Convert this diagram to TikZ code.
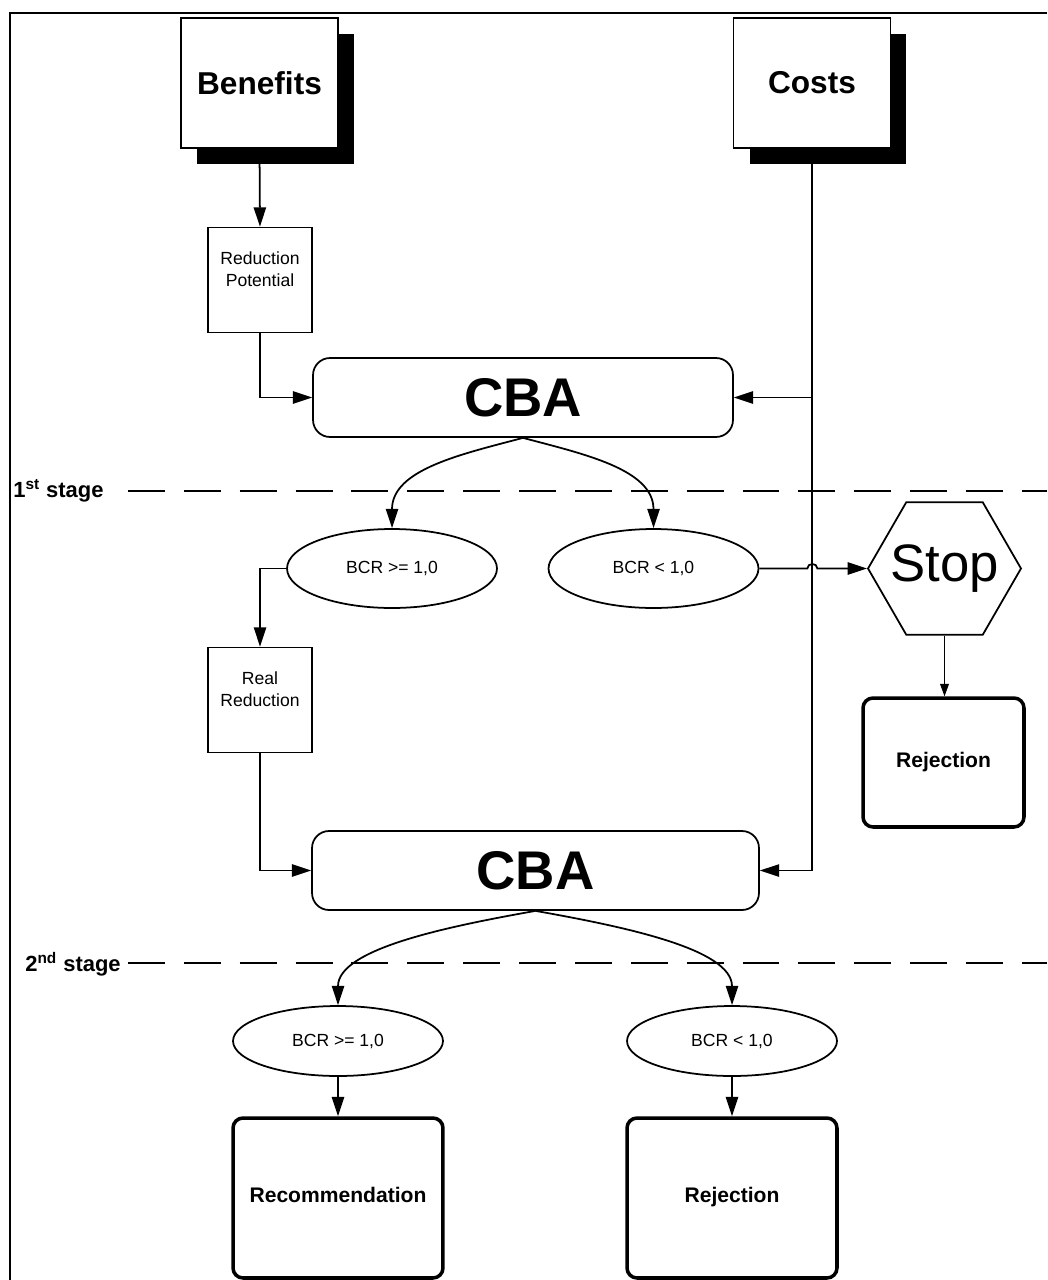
\documentclass[tikz,border=0pt]{standalone}
\usepackage{fontspec}
\setmainfont{Liberation Sans}
\usetikzlibrary{shapes.geometric}
\usetikzlibrary{shadows}
\usetikzlibrary{arrows.meta}

\begin{document}
\begin{tikzpicture}[x=0.02cm,y=-0.02cm,
  docbox/.style={draw,fill=white,line width=1pt,minimum width=3.14cm,minimum height=2.6cm,font=\bfseries\fontsize{18}{22}\selectfont,drop shadow={shadow xshift=0.32cm,shadow yshift=-0.32cm,fill=black,opacity=1}},
  redbox/.style={draw,line width=1pt,minimum width=2.08cm,minimum height=2.1cm,inner sep=0pt,align=center,font=\fontsize{10}{12.5}\selectfont},
  cbabox/.style={draw,line width=1pt,rounded corners=0.34cm,minimum height=1.58cm,font=\bfseries\fontsize{31}{36}\selectfont},
  bcr/.style={ellipse,draw,line width=1pt,minimum width=4.2cm,minimum height=1.58cm,inner sep=0pt,font=\fontsize{10}{12}\selectfont},
  endbox/.style={draw,line width=2pt,rounded corners=0.2cm,text height=0.75em,text depth=0.22em,font=\bfseries\fontsize{12}{14}\selectfont},
  stopsign/.style={regular polygon,regular polygon sides=6,draw,line width=1pt,minimum size=3.06cm,inner sep=0pt,label={[font=\fontsize{30}{36}\selectfont]center:#1}},
  stagelabel/.style={inner sep=0pt,font=\bfseries\fontsize{12.5}{14}\selectfont},
  stageline/.style={line width=1.1pt,dash pattern=on 21pt off 10.8pt},
  arr/.style={line width=1pt,-{Triangle[length=11pt,width=7pt]}},
  thinarr/.style={line width=0.5pt,-{Triangle[length=7pt,width=5pt]}}]
\useasboundingbox (0,0) rectangle (1047,1280);
\draw[line width=1.2pt] (1047,13) -- (10,13) -- (10,1280);

\node[docbox] (benefits) at (259.5,83) {Benefits};
\node[docbox] (costs) at (812,83) {Costs};
\node[redbox] (potential) at (260,280) {Reduction\\Potential\\\mbox{}};
\node[cbabox,minimum width=8.4cm] (cbaA) at (523,397.5) {CBA};
\node[bcr] (bcrA) at (392,568.5) {BCR >= 1,0};
\node[bcr] (bcrB) at (653.5,568.5) {BCR < 1,0};
\node[stopsign=Stop] (stop) at (944.5,568.5) {};
\node[endbox,minimum width=3.22cm,minimum height=2.58cm] (rejA) at (943.5,762.5) {Rejection};
\node[redbox] (real) at (260,700) {Real\\Reduction\\\mbox{}};
\node[cbabox,minimum width=8.94cm] (cbaB) at (535.5,870.5) {CBA};
\node[bcr,minimum height=1.4cm] (bcrC) at (338,1041) {BCR >= 1,0};
\node[bcr,minimum height=1.4cm] (bcrD) at (732,1041) {BCR < 1,0};
\node[endbox,minimum width=4.2cm,minimum height=3.2cm] (recom) at (338,1198) {Recommendation};
\node[endbox,minimum width=4.2cm,minimum height=3.2cm] (rejB) at (732,1198) {Rejection};

\node[stagelabel,anchor=base west] (stageA) at (13,497) {1\textsuperscript{st} stage};
\node[stagelabel,anchor=base west] (stageB) at (25,971) {2\textsuperscript{nd} stage};
\coordinate (stageAL) at (128,491);
\coordinate (stageAR) at (1047,491);
\coordinate (stageBL) at (128,963);
\coordinate (stageBR) at (1047,963);
\draw[stageline] (stageAL) -- (stageAR);
\draw[stageline] (stageBL) -- (stageBR);

\draw[arr] (benefits.south) -- (potential.north);
\draw[arr] (potential.south) |- (cbaA.west);
\draw[arr] (costs.south) |- (cbaB.east);
\draw[arr] (costs.south |- cbaA.east) -- (cbaA.east);
\draw[arr] (cbaA.south) .. controls +(-60,16) and +(0,-59) .. (bcrA.north);
\draw[arr] (cbaA.south) .. controls +(60,16) and +(0,-59) .. (bcrB.north);
\draw[arr] (bcrA.west) -| (real.north);
\draw[arr] (real.south) |- (cbaB.west);
\draw[arr] (bcrB.east) -- ++(48,0) .. controls +(0,-6) and +(0,-6) .. ++(10,0) -- (stop.west);
\draw[thinarr] (stop.south) -- (stop.south |- rejA.north);
\draw[arr] (cbaB.south) .. controls +(-90,16) and +(0,-56) .. (bcrC.north);
\draw[arr] (cbaB.south) .. controls +(90,16) and +(0,-56) .. (bcrD.north);
\draw[arr] (bcrC.south) -- (recom.north);
\draw[arr] (bcrD.south) -- (rejB.north);
\end{tikzpicture}
\end{document}
